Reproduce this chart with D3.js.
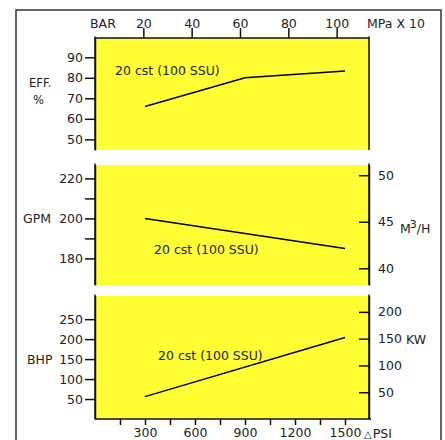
<!DOCTYPE html>
<html>
<head>
<meta charset="utf-8">
<script src="https://d3js.org/d3.v7.min.js"></script>
<style>
  body { margin: 0; background: #fff; }
  text { font-family: "DejaVu Sans", sans-serif; font-size: 12.5px; fill: #222; }
  .axis path, .axis line { stroke: #111; stroke-width: 1.5; }
  .axis text { font-family: "DejaVu Sans", sans-serif; font-size: 12.5px; fill: #222; }
</style>
</head>
<body>
<svg id="chart" width="445" height="440"></svg>
<script>
(function() {
  var svg, x, bar, eff, gpm, m3h, bhp, kw, line, panels, lbl;

  // pressure drop (psi) where the curves are read
  var psi = [300, 900, 1500];
  var effValues = [66, 80, 83.3];
  var gpmPsi = [300, 1500];
  var gpmValues = [200, 185];
  var bhpPsi = [300, 1500];
  var bhpValues = [56, 204];

  var psiTicks = [150, 300, 450, 600, 750, 900, 1050, 1200, 1350, 1500];
  var psiLabels = [300, 600, 900, 1200, 1500];
  var barTicks = [20, 40, 60, 80, 100];
  var effTicks = [50, 60, 70, 80, 90];
  var gpmTicks = [180, 190, 200, 210, 220];
  var gpmLabels = [180, 200, 220];
  var m3hTicks = [40, 45, 50];
  var bhpTicks = [50, 100, 150, 200, 250];
  var kwTicks = [50, 100, 150, 200];
  var curveName = '20 cst (100 SSU)';

  var PSI_PER_BAR = 14.5, KW_PER_HP = 0.7457;
  var left = 95, right = 369;

  svg = d3.select('#chart');

  // outer frame, runs off the bottom of the picture
  svg.append('rect').attr('x', 16).attr('y', 10).attr('width', 425).attr('height', 450)
    .attr('fill', 'none').attr('stroke', '#333').attr('stroke-width', 1.5);

  x = d3.scaleLinear().domain([0, 1644]).range([left, right]);
  bar = d3.scaleLinear().domain([0, 1644 / PSI_PER_BAR]).range([left, right]);
  eff = d3.scaleLinear().domain([44.8, 99.4]).range([150, 38]);
  gpm = d3.scaleLinear().domain([166.7, 226.7]).range([285, 165]);
  m3h = d3.scaleLinear().domain([38.2, 51.1]).range([285, 165]);
  bhp = d3.scaleLinear().domain([0, 308]).range([419, 296]);
  kw = d3.scaleLinear().domain([0, 308 * KW_PER_HP]).range([419, 296]);

  panels = [eff, gpm, bhp];
  panels.forEach(function(s) {
    var r = s.range();
    svg.append('rect').attr('x', left).attr('y', r[1])
      .attr('width', right - left).attr('height', r[0] - r[1]).attr('fill', '#ffff33');
    // side borders
    svg.append('line').attr('x1', left).attr('x2', left).attr('y1', r[1] - 1.5).attr('y2', r[0])
      .attr('stroke', '#111').attr('stroke-width', 1.5);
    svg.append('line').attr('x1', right).attr('x2', right).attr('y1', r[1] - 1.5).attr('y2', r[0])
      .attr('stroke', '#111').attr('stroke-width', 1.5);
  });

  // top: bar axis
  svg.append('g').attr('class', 'axis').attr('transform', 'translate(0,38)')
    .call(d3.axisTop(bar).tickValues(barTicks).tickSize(10).tickSizeOuter(0).tickPadding(0));
  svg.select('.axis path').attr('d', 'M' + left + ',0H' + right);

  // left axes
  svg.append('g').attr('class', 'axis').attr('transform', 'translate(' + left + ',0)')
    .call(d3.axisLeft(eff).tickValues(effTicks).tickSize(10).tickSizeOuter(0).tickPadding(2));
  svg.append('g').attr('class', 'axis').attr('transform', 'translate(' + left + ',0)')
    .call(d3.axisLeft(gpm).tickValues(gpmTicks).tickSize(10).tickSizeOuter(0).tickPadding(2)
      .tickFormat(function(d) { return gpmLabels.indexOf(d) >= 0 ? d : ''; }));
  svg.append('g').attr('class', 'axis').attr('transform', 'translate(' + left + ',0)')
    .call(d3.axisLeft(bhp).tickValues(bhpTicks).tickSize(10).tickSizeOuter(0).tickPadding(2));

  // right axes, ticks point inward
  svg.append('g').attr('class', 'axis').attr('transform', 'translate(' + right + ',0)')
    .call(d3.axisRight(m3h).tickValues(m3hTicks).tickSize(-10).tickSizeOuter(0).tickPadding(9));
  svg.append('g').attr('class', 'axis').attr('transform', 'translate(' + right + ',0)')
    .call(d3.axisRight(kw).tickValues(kwTicks).tickSize(-10).tickSizeOuter(0).tickPadding(9));

  // bottom: psi axis
  svg.append('g').attr('class', 'axis').attr('transform', 'translate(0,419)')
    .call(d3.axisBottom(x).tickValues(psiTicks).tickSize(6).tickSizeOuter(0).tickPadding(3)
      .tickFormat(function(d) { return psiLabels.indexOf(d) >= 0 ? d : ''; }))
    .select('path').attr('d', 'M' + left + ',0H' + (right + 2));

  // curves
  function curve(xs, ys, s) {
    line = d3.line().x(function(d, i) { return x(xs[i]); }).y(function(d) { return s(d); });
    svg.append('path').attr('d', line(ys)).attr('fill', 'none')
      .attr('stroke', '#000').attr('stroke-width', 1.5);
  }
  curve(psi, effValues, eff);
  curve(gpmPsi, gpmValues, gpm);
  curve(bhpPsi, bhpValues, bhp);

  // curve labels
  lbl = [[115, 75], [154, 254], [158, 360]];
  lbl.forEach(function(p) {
    svg.append('text').attr('x', p[0]).attr('y', p[1]).text(curveName);
  });

  // unit labels
  svg.append('text').attr('x', 90).attr('y', 28).text('BAR');
  svg.append('text').attr('x', 367).attr('y', 28).text('MPa X 10');
  svg.append('text').attr('x', 29).attr('y', 87).style('font-size', '11.5px').text('EFF.');
  svg.append('text').attr('x', 33).attr('y', 104).style('font-size', '11.5px').text('%');
  svg.append('text').attr('x', 23).attr('y', 223).text('GPM');
  svg.append('text').attr('x', 27).attr('y', 364).text('BHP');
  svg.append('text').attr('x', 406).attr('y', 344).text('KW');

  var mt = svg.append('text').attr('x', 400).attr('y', 233);
  mt.append('tspan').text('M');
  mt.append('tspan').attr('dx', -1).attr('dy', -5).style('font-size', '11px').text('3');
  mt.append('tspan').attr('dy', 5).text('/H');

  var pt = svg.append('text').attr('x', 364).attr('y', 438);
  pt.append('tspan').style('font-size', '10px').text('\u25B3');
  pt.append('tspan').attr('dx', 1).text('PSI');
})();
</script>
</body>
</html>
